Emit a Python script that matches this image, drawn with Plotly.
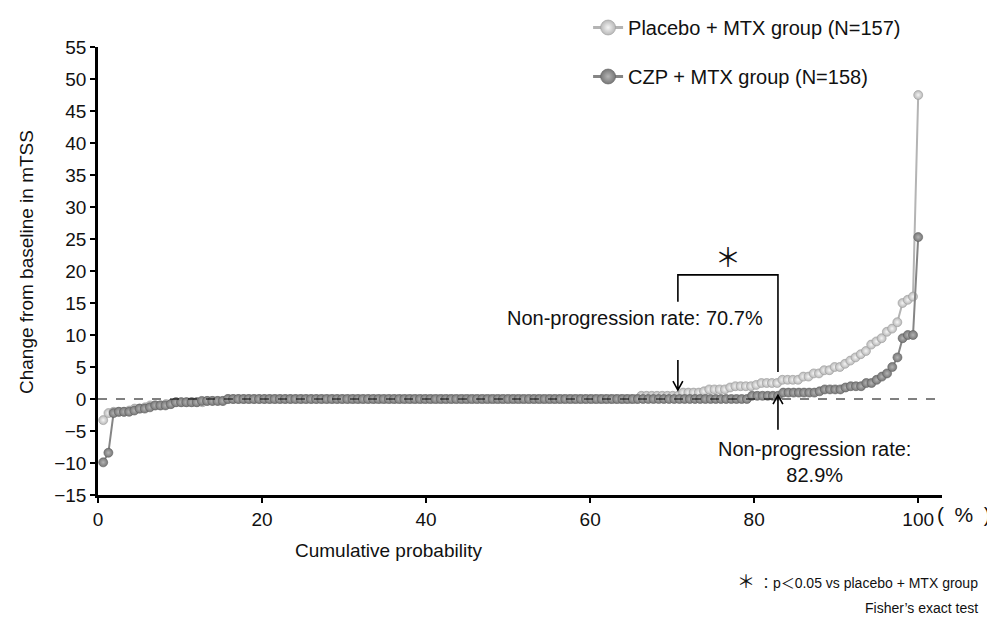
import plotly.graph_objects as go

# ---- data: sorted change from baseline in mTSS per patient ----
placebo_n = 157
placebo_values = [
    -3.3, -2.2, -2.0, -2.0, -2.0, -1.8, -1.5, -1.5, -1.3, -1.0,
    -1.0, -1.0, -0.8, -0.8, -0.5, -0.5, -0.5, -0.5, -0.5, -0.5,
    -0.3, -0.3, -0.3, -0.3,
    0, 0, 0, 0, 0, 0, 0, 0, 0, 0, 0, 0, 0, 0, 0, 0, 0, 0, 0, 0,
    0, 0, 0, 0, 0, 0, 0, 0, 0, 0, 0, 0, 0, 0, 0, 0, 0, 0, 0, 0,
    0, 0, 0, 0, 0, 0, 0, 0, 0, 0, 0, 0, 0, 0, 0, 0, 0, 0, 0, 0,
    0, 0, 0, 0, 0, 0, 0, 0, 0, 0, 0, 0, 0, 0, 0, 0, 0, 0, 0,
    0.5, 0.5, 0.5, 0.5, 0.5, 0.5, 0.5, 0.5,
    1.0, 1.0, 1.0, 1.0, 1.2, 1.5, 1.5, 1.5, 1.5, 1.8,
    2.0, 2.0, 2.0, 2.0, 2.2, 2.5, 2.5, 2.5, 2.5, 3.0,
    3.0, 3.0, 3.0, 3.5, 3.5, 4.0, 4.0, 4.5, 4.5, 5.0,
    5.0, 5.5, 6.0, 6.5, 7.0, 7.5, 8.5, 9.0, 9.5, 10.5,
    11.0, 12.0, 15.0, 15.5, 16.0, 47.5,
]

czp_n = 158
czp_values = [
    -9.9, -8.4, -2.2, -2.0, -2.0, -2.0, -1.8, -1.5, -1.5, -1.3,
    -1.0, -1.0, -1.0, -0.8, -0.5, -0.5, -0.5, -0.5, -0.5,
    -0.3, -0.3, -0.3, -0.3, -0.3,
    0, 0, 0, 0, 0, 0, 0, 0, 0, 0, 0, 0, 0, 0, 0, 0, 0, 0, 0, 0,
    0, 0, 0, 0, 0, 0, 0, 0, 0, 0, 0, 0, 0, 0, 0, 0, 0, 0, 0, 0,
    0, 0, 0, 0, 0, 0, 0, 0, 0, 0, 0, 0, 0, 0, 0, 0, 0, 0, 0, 0,
    0, 0, 0, 0, 0, 0, 0, 0, 0, 0, 0, 0, 0, 0, 0, 0, 0, 0, 0, 0,
    0, 0, 0, 0, 0, 0, 0, 0, 0, 0, 0, 0, 0, 0, 0, 0, 0, 0, 0, 0,
    0,
    0.5, 0.5, 0.5, 0.5, 0.5, 0.5,
    1.0, 1.0, 1.0, 1.0, 1.0, 1.0, 1.0, 1.2, 1.5, 1.5,
    1.5, 1.5, 1.8, 2.0, 2.0, 2.0, 2.5, 2.5, 3.0, 3.5,
    4.0, 5.0, 6.5, 9.5, 10.0, 10.0, 25.3,
]

placebo_label = "Placebo + MTX group (N=157)"
czp_label = "CZP + MTX group (N=158)"
x_ticks = [0, 20, 40, 60, 80, 100]
placebo_rate = 70.7
czp_rate = 82.9

# cumulative probability (%) of each sorted patient
placebo_x = [(i + 1) / placebo_n * 100 for i in range(len(placebo_values))]
czp_x = [(i + 1) / czp_n * 100 for i in range(len(czp_values))]

FONT = "Liberation Sans, Arial, sans-serif"
CJK = "Noto Sans CJK JP"
FOOT_FONT = "Liberation Sans, Noto Sans CJK JP, sans-serif"
INK = "#111111"

placebo_style = dict(
    line=dict(color="#b4b4b4", width=2),
    marker_color="#b8b8b8", marker_grad="#f4f4f4", marker_edge="#9a9a9a",
)
czp_style = dict(
    line=dict(color="#858585", width=2),
    marker_color="#777777", marker_grad="#b4b4b4", marker_edge="#606060",
)


def marker(style, size):
    return dict(size=size, color=style["marker_color"],
                gradient=dict(type="radial", color=style["marker_grad"]),
                line=dict(color=style["marker_edge"], width=0.6))


fig = go.Figure()
fig.add_trace(go.Scatter(
    x=placebo_x, y=placebo_values, mode="lines+markers", name=placebo_label,
    showlegend=False, line=placebo_style["line"], marker=marker(placebo_style, 9),
))
fig.add_trace(go.Scatter(
    x=czp_x, y=czp_values, mode="lines+markers", name=czp_label,
    showlegend=False, line=czp_style["line"], marker=marker(czp_style, 9),
))
# legend entries (no data drawn) with larger glyphs like the reference
fig.add_trace(go.Scatter(
    x=[None], y=[None], mode="lines+markers", name=placebo_label,
    legendgroup="a", line=dict(color="#b4b4b4", width=3),
    marker=marker(placebo_style, 15),
))
fig.add_trace(go.Scatter(
    x=[None], y=[None], mode="lines+markers", name=czp_label,
    legendgroup="b", line=dict(color="#858585", width=3),
    marker=marker(czp_style, 15),
))

shapes = [
    # zero reference line
    dict(type="line", xref="paper", x0=0, x1=1, yref="y", y0=0, y1=0,
         line=dict(color="black", width=1, dash="dash")),
    # significance bracket
    dict(type="path", xref="x", yref="y",
         path=f"M{placebo_rate},15.2 L{placebo_rate},19.4 L{czp_rate},19.4 L{czp_rate},4.2",
         line=dict(color="black", width=1.6)),
    # down arrow at placebo rate
    dict(type="path", xref="x", yref="y",
         path=f"M{placebo_rate},6.1 L{placebo_rate},1.4 M{placebo_rate-0.6},2.8 L{placebo_rate},1.4 L{placebo_rate+0.6},2.8",
         line=dict(color="black", width=1.6)),
    # up arrow at CZP rate
    dict(type="path", xref="x", yref="y",
         path=f"M{czp_rate},-4.8 L{czp_rate},0.6 M{czp_rate-0.6},-0.8 L{czp_rate},0.6 L{czp_rate+0.6},-0.8",
         line=dict(color="black", width=1.6)),
]

annotations = [
    dict(x=65.5, y=12.7, xref="x", yref="y", showarrow=False,
         xanchor="center", yanchor="middle",
         text=f"Non-progression rate: {placebo_rate}%",
         font=dict(size=20, family=FONT, color=INK)),
    dict(x=87.4, y=-9.9, xref="x", yref="y", showarrow=False,
         xanchor="center", yanchor="middle",
         text=f"Non-progression rate:<br>{czp_rate}%",
         font=dict(size=20, family=FONT, color=INK)),
    dict(x=(placebo_rate + czp_rate) / 2, y=22.4, xref="x", yref="y", showarrow=False,
         xanchor="center", yanchor="middle",
         text="＊", font=dict(size=26, family=CJK, color=INK)),
    # axis titles
    dict(x=35.4, y=-0.1228, xref="x", yref="paper", showarrow=False,
         xanchor="center", yanchor="middle",
         text="Cumulative probability",
         font=dict(size=19, family=FONT, color=INK)),
    dict(x=-0.0853, y=0.52, xref="paper", yref="paper", showarrow=False,
         xanchor="center", yanchor="middle",
         textangle=-90, text="Change from baseline in mTSS",
         font=dict(size=19, family=FONT, color=INK)),
    dict(x=1.026, y=-0.0446, xref="paper", yref="paper",
         xanchor="center", yanchor="middle",
         showarrow=False, text="(\u2002%\u2002)",
         font=dict(size=21, family=FONT, color=INK)),
    # footnotes
    dict(x=1.045, y=-0.194, xref="paper", yref="paper",
         xanchor="right", yanchor="middle", showarrow=False,
         text="<span style='font-size:18px'>＊</span> ：p＜0.05 vs placebo + MTX group",
         font=dict(size=14, family=FOOT_FONT, color=INK)),
    dict(x=1.045, y=-0.252, xref="paper", yref="paper",
         xanchor="right", yanchor="middle", showarrow=False,
         text="Fisher’s exact test",
         font=dict(size=14, family=FONT, color=INK)),
]

fig.update_layout(
    width=995, height=619,
    # page body adds an 8px offset; plot area lands at x 98-942, y 47-495
    margin=dict(l=90, r=61, t=39, b=132, autoexpand=False),
    plot_bgcolor="white", paper_bgcolor="white",
    font=dict(family=FONT, color=INK),
    shapes=shapes, annotations=annotations,
    showlegend=True,
    legend=dict(x=0.583, y=1.012, xref="container", yref="container",
                xanchor="left", yanchor="top",
                font=dict(size=20, family=FONT, color=INK),
                traceorder="grouped", tracegroupgap=20,
                bgcolor="rgba(0,0,0,0)"),
)
fig.update_xaxes(
    range=[0, 102.9], tickvals=x_ticks, ticks="outside", ticklen=5,
    tickwidth=1.5, tickcolor="black", automargin=False,
    showline=True, linecolor="black", linewidth=2.5,
    showgrid=False, zeroline=False,
    tickfont=dict(size=19, family=FONT, color=INK),
)
fig.update_yaxes(
    range=[-15, 55], dtick=5, tick0=-15, ticks="outside", ticklen=5,
    tickwidth=1.5, tickcolor="black", automargin=False,
    showline=True, linecolor="black", linewidth=2.5,
    showgrid=False, zeroline=False,
    tickfont=dict(size=19, family=FONT, color=INK),
)

fig.write_html("out.html")
